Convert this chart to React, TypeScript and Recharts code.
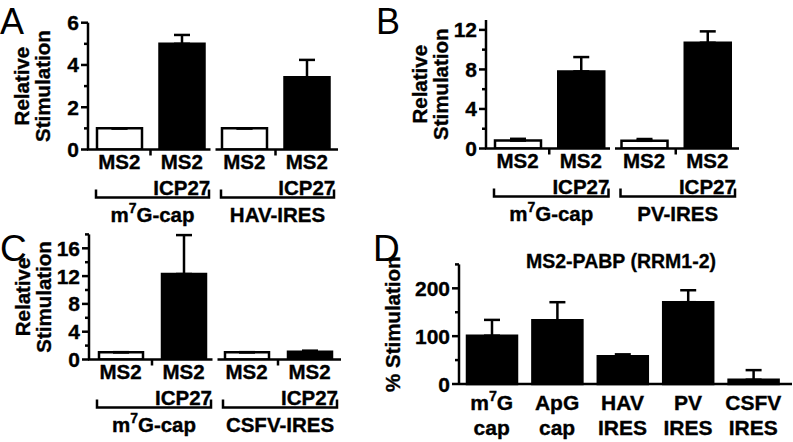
import React from 'react';
import { BarChart, Bar, XAxis, YAxis, Cell, ErrorBar } from 'recharts';

const FONT = '"Liberation Sans", Arial, Helvetica, sans-serif';

// ---------- Panel A ----------
const aGroups = ['m7G-cap', 'HAV-IRES'];
const aConstructs = ['MS2', 'MS2 ICP27', 'MS2', 'MS2 ICP27'];
const aValues = [1.0, 5.0, 1.0, 3.42];
const aErrors = [0, 0.42, 0, 0.82];
const aTicks = [0, 2, 4, 6];
const aMinorTicks = [1, 3, 5];

// ---------- Panel B ----------
const bGroups = ['m7G-cap', 'PV-IRES'];
const bConstructs = ['MS2', 'MS2 ICP27', 'MS2', 'MS2 ICP27'];
const bValues = [0.8, 7.8, 0.78, 10.7];
const bErrors = [0.18, 1.45, 0.18, 1.15];
const bTicks = [0, 4, 8, 12];
const bMinorTicks = [2, 6, 10];

// ---------- Panel C ----------
const cGroups = ['m7G-cap', 'CSFV-IRES'];
const cConstructs = ['MS2', 'MS2 ICP27', 'MS2', 'MS2 ICP27'];
const cValues = [1.05, 12.3, 1.05, 1.12];
const cErrors = [0, 5.6, 0, 0.15];
const cTicks = [0, 4, 8, 12, 16];
const cMinorTicks = [2, 6, 10, 14, 18];

// ---------- Panel D ----------
const dCategories = ['m7G cap', 'ApG cap', 'HAV IRES', 'PV IRES', 'CSFV IRES'];
const dValues = [101, 133, 58, 171, 9];
const dErrors = [33, 38, 4, 25, 20];
const dTicks = [0, 100, 200];
const dMinorTicks = [50, 150, 250];
const dTitle = 'MS2-PABP (RRM1-2)';

const buildGrouped = (groups: string[], constructs: string[], values: number[], errors: number[]) =>
  constructs.map((c, i) => ({
    key: groups[Math.floor(i / 2)] + '|' + c + '|' + i,
    construct: c,
    group: groups[Math.floor(i / 2)],
    value: values[i],
    err: [0, errors[i]],
  }));

const aData = buildGrouped(aGroups, aConstructs, aValues, aErrors);
const bData = buildGrouped(bGroups, bConstructs, bValues, bErrors);
const cData = buildGrouped(cGroups, cConstructs, cValues, cErrors);
const dData = dCategories.map((c, i) => ({ key: c, value: dValues[i], err: [0, dErrors[i]] }));

const SW = 2.5;
const LFS = 20.5; // x label font size
const TXT = { fontWeight: 'bold' as const, fontFamily: FONT, fill: '#000', stroke: '#000', strokeWidth: 0.35 };

// text with "m7G" -> m<sup>7</sup>G
const richText = (s: string, fs: number) => {
  const idx = s.indexOf('m7G');
  if (idx < 0) return s;
  const before = s.slice(0, idx);
  const after = s.slice(idx + 3);
  return [
    <tspan key="a">{before}m</tspan>,
    <tspan key="b" dy={-fs * 0.42} fontSize={fs * 0.68}>7</tspan>,
    <tspan key="c" dy={fs * 0.42}>G{after}</tspan>,
  ];
};

const makeYTick = (majors: number[]) => (props: any) => {
  const { x, y, payload } = props;
  const major = majors.includes(payload.value);
  return (
    <g>
      <line x1={x - (major ? 7 : 4)} x2={x} y1={y} y2={y} stroke="#000" strokeWidth={SW} />
      {major && (
        <text x={x - 9} y={y} dy={7.5} textAnchor="end" fontSize={21} {...TXT}>
          {payload.value}
        </text>
      )}
    </g>
  );
};

const makeGroupedTick = (rows: any[], groups: string[]) => (props: any) => {
  const { x, y, payload, index } = props;
  const i = typeof index === 'number' ? index : payload.index;
  const band = (payload && payload.offset ? payload.offset : 31) * 2;
  const row = rows[i];
  if (!row) return <g />;
  const lines = row.construct.split(' ');
  const els: any[] = [];
  lines.forEach((l: string, k: number) =>
    els.push(
      <text key={'t' + k} x={x} y={y + (k === 0 ? 19.5 : 45)} textAnchor="middle" fontSize={LFS} {...TXT}>
        {l}
      </text>
    )
  );
  if (i % 2 === 0) {
    const g = i / 2;
    const left = x - band / 2;
    const right = x + band * 1.5;
    const isFirst = g === 0;
    const isLast = g === groups.length - 1;
    els.push(
      <line key="ax" x1={left + (isFirst ? -1 : 2.5)} x2={right - (isLast ? 0 : 2.5)} y1={y} y2={y} stroke="#000" strokeWidth={SW} />
    );
    els.push(<line key="tk" x1={x + band / 2} x2={x + band / 2} y1={y} y2={y + 6} stroke="#000" strokeWidth={SW} />);
    const bl = left + 8;
    const br = right - 4;
    els.push(
      <path key="br" d={`M${bl},${y + 40} V${y + 48} H${br} V${y + 40}`} fill="none" stroke="#000" strokeWidth={SW} />
    );
    els.push(
      <text key="gl" x={(bl + br) / 2} y={y + 72} textAnchor="middle" fontSize={LFS} {...TXT}>
        {richText(groups[g], LFS)}
      </text>
    );
  }
  return <g>{els}</g>;
};

const makeDTick = () => (props: any) => {
  const { x, y, payload } = props;
  const lines = String(payload.value).split(' ');
  return (
    <g>
      {lines.map((l, k) => (
        <text key={k} x={x} y={y + (k === 0 ? 26 : 51)} textAnchor="middle" fontSize={21} {...TXT}>
          {richText(l, 21)}
        </text>
      ))}
    </g>
  );
};

const YLabel = (props: any) => {
  const { viewBox, lines, offsets } = props;
  if (!viewBox) return null;
  const { x, y, width, height } = viewBox;
  const axisX = x + width;
  const cy = y + height / 2;
  return (
    <g>
      {lines.map((l: string, i: number) => (
        <text
          key={i}
          transform={`translate(${axisX - offsets[i]},${cy}) rotate(-90)`}
          textAnchor="middle"
          fontSize={20.5}
          {...TXT}
        >
          {l}
        </text>
      ))}
    </g>
  );
};

const GroupedPanel = (p: any) => {
  const { data, groups, ticks, minor, domain, left, top, width, height, yWidth, margin, xHeight, barSize } = p;
  const all = [...ticks, ...minor].sort((a: number, b: number) => a - b);
  return (
    <div style={{ position: 'absolute', left, top, width, height }}>
      <BarChart width={width} height={height} data={data} margin={margin} barCategoryGap={0}>
        <XAxis
          dataKey="key"
          axisLine={false}
          tickLine={false}
          tickSize={0}
          tickMargin={0}
          height={xHeight}
          interval={0}
          tick={makeGroupedTick(data, groups)}
        />
        <YAxis
          type="number"
          domain={domain}
          ticks={all}
          interval={0}
          width={yWidth}
          tickLine={false}
          tickSize={0}
          tickMargin={0}
          axisLine={{ stroke: '#000', strokeWidth: SW }}
          tick={makeYTick(ticks)}
          allowDataOverflow
          label={<YLabel lines={['Relative', 'Stimulation']} offsets={[59, 38]} />}
        />
        <Bar dataKey="value" barSize={barSize} stroke="#000" strokeWidth={SW} isAnimationActive={false}>
          {data.map((r: any) => (
            <Cell key={r.key} fill={r.construct.indexOf('ICP27') >= 0 ? '#000' : '#fff'} />
          ))}
          <ErrorBar dataKey="err" width={8} stroke="#000" strokeWidth={SW} direction="y" isAnimationActive={false} />
        </Bar>
      </BarChart>
    </div>
  );
};

export default function App() {
  const dAll = [...dTicks, ...dMinorTicks].sort((a, b) => a - b);
  return (
    <div style={{ position: 'absolute', left: 0, top: 0, width: 793, height: 442, background: '#fff', overflow: 'hidden', fontFamily: FONT }}>
      <GroupedPanel
        data={aData}
        groups={aGroups}
        ticks={aTicks}
        minor={aMinorTicks}
        domain={[0, 6]}
        left={0}
        top={0}
        width={400}
        height={232}
        yWidth={88}
        margin={{ top: 22.7, right: 62, left: 0, bottom: 0 }}
        xHeight={82.5}
        barSize={45}
      />
      <GroupedPanel
        data={bData}
        groups={bGroups}
        ticks={bTicks}
        minor={bMinorTicks}
        domain={[0, 13]}
        left={370}
        top={0}
        width={423}
        height={232}
        yWidth={116}
        margin={{ top: 20, right: 54, left: 0, bottom: 0 }}
        xHeight={83.5}
        barSize={46}
      />
      <GroupedPanel
        data={cData}
        groups={cGroups}
        ticks={cTicks}
        minor={cMinorTicks}
        domain={[0, 18]}
        left={0}
        top={220}
        width={400}
        height={222}
        yWidth={89}
        margin={{ top: 14.4, right: 59, left: 0, bottom: 0 }}
        xHeight={82.5}
        barSize={44}
      />
      <div style={{ position: 'absolute', left: 360, top: 220, width: 433, height: 222 }}>
        <BarChart width={433} height={222} data={dData} margin={{ top: 44.4, right: 1, left: 0, bottom: 0 }} barCategoryGap={0}>
          <XAxis
            dataKey="key"
            axisLine={{ stroke: '#000', strokeWidth: SW }}
            tickLine={false}
            tickSize={0}
            tickMargin={0}
            height={58}
            interval={0}
            padding={{ left: 0, right: 6 }}
            tick={makeDTick()}
          />
          <YAxis
            type="number"
            domain={[0, 250]}
            ticks={dAll}
            interval={0}
            width={99}
            tickLine={false}
            tickSize={0}
            tickMargin={0}
            axisLine={{ stroke: '#000', strokeWidth: SW }}
            tick={makeYTick(dTicks)}
            label={<YLabel lines={['% Stimulation']} offsets={[59]} />}
          />
          <Bar dataKey="value" barSize={50} fill="#000" stroke="#000" strokeWidth={SW} isAnimationActive={false}>
            <ErrorBar dataKey="err" width={8} stroke="#000" strokeWidth={SW} direction="y" isAnimationActive={false} />
          </Bar>
        </BarChart>
      </div>
      <svg width={793} height={442} style={{ position: 'absolute', left: 0, top: 0, pointerEvents: 'none' }}>
        <g fontFamily={FONT} fill="#000">
          <text x={0} y={34} fontSize={36}>A</text>
          <text x={376} y={34} fontSize={36}>B</text>
          <text x={0} y={261} fontSize={37}>C</text>
          <text x={373} y={261} fontSize={37}>D</text>
          <text x={621} y={268} fontSize={19.5} fontWeight="bold" stroke="#000" strokeWidth={0.3} textAnchor="middle">{dTitle}</text>
        </g>
      </svg>
    </div>
  );
}
